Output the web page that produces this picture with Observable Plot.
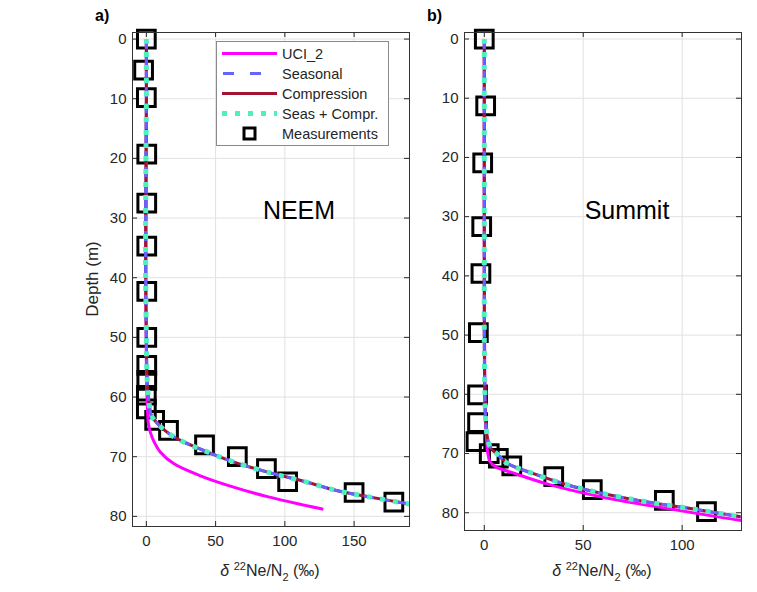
<!DOCTYPE html>
<html><head><meta charset="utf-8">
<script src="https://cdn.jsdelivr.net/npm/d3@7"></script>
<script src="https://cdn.jsdelivr.net/npm/@observablehq/plot@0.6"></script>
<style>
body{margin:0;background:#fff;font-family:"Liberation Sans",Arial,sans-serif;color:#262626}
#wrap{position:relative;width:757px;height:592px;overflow:hidden;background:#fff}
.abs{position:absolute;white-space:nowrap}
.panel{position:absolute;top:0}
.xlab{font-size:16px;text-align:center;width:200px}
.xlab sup,.xlab sub{font-size:11px}
.site{font-size:25px;color:#000}
.tag{font-size:16px;font-weight:bold;color:#000}
</style></head><body><div id="wrap"></div>
<script>
// ---------- NEEM (panel a) ----------
const neemMeasX     = [0, -2, 0, 0.3, 0.3, 0.3, 0.3, 0.3, 0.3, 0.3, 0, 0, 6, 16, 42, 65.7, 86.7, 102, 150, 178.7];
const neemMeasDepth = [0, 5.2, 9.8, 19.3, 27.5, 34.7, 42.3, 50, 54.7, 57.2, 59.7, 62, 63.9, 65.6, 68, 70, 72, 74.2, 76, 77.6];

const neemUciX     = [0, 0, -0.3, 0, 0.5, 1, 1.5, 3, 6, 10, 20, 39, 63, 87.4, 111.6, 127.8];
const neemUciDepth = [0, 20, 40, 55, 60, 63, 64.5, 66, 67.7, 69.2, 71.2, 73.2, 75.1, 76.7, 78, 78.8];

const neemCompX     = [0, 0, -0.3, -0.5, -0.5, 0, 0.3, 0.8, 1.5, 2.5, 3.6, 10, 17.4, 25.8, 44, 63.3, 91, 111.6, 138, 160, 189, 196];
const neemCompDepth = [0, 10, 20, 30, 40, 50, 55, 58, 60, 62, 63.1, 64.9, 66.3, 67.4, 69.2, 70.9, 72.8, 74, 75.7, 76.7, 77.9, 78.2];

const neemSeasX     = [0, 0, -0.3, -0.5, -0.5, 0, 0.3, 0.8, 1.5, 2.5, 3.6, 10, 17.4, 25.8, 44, 63.3, 91, 111.6, 138, 160, 189, 196];
const neemSeasDepth = [0, 10, 20, 30, 40, 50, 55, 58, 60, 62, 63.1, 64.9, 66.3, 67.4, 69.2, 70.9, 72.8, 74, 75.7, 76.7, 77.9, 78.2];

const neemBothX     = [0, 0, -0.3, -0.5, -0.5, 0, 0.3, 0.8, 1.5, 2.5, 3.6, 10, 17.4, 25.8, 44, 63.3, 91, 111.6, 138, 160, 189, 196];
const neemBothDepth = [0, 10, 20, 30, 40, 50, 55, 58, 60, 62, 63.1, 64.9, 66.3, 67.4, 69.2, 70.9, 72.8, 74, 75.7, 76.7, 77.9, 78.2];

// ---------- Summit (panel b) ----------
const sumMeasX     = [0, 0.7, -0.8, -1.3, -1.7, -3, -3.4, -3.4, -4.2, 2.5, 7.1, 13.9, 35.1, 54.6, 91, 112.3];
const sumMeasDepth = [0, 11.3, 20.9, 31.7, 39.6, 49.6, 60.1, 64.8, 68, 70, 70.8, 72.1, 73.9, 76.1, 77.9, 79.8];

const sumUciX     = [0, 0, 0.3, 0.8, 1.2, 1.8, 2.9, 6, 13, 33.4, 58.9, 92.8, 130, 136];
const sumUciDepth = [0, 40, 60, 65, 68, 70, 71.4, 72.3, 73.1, 75.3, 77.3, 79.3, 81.3, 81.5];

const sumCompX     = [0, 0, 0, 0, 0.3, 0.8, 2, 3.5, 6.3, 11.4, 24.9, 45.3, 75.8, 106.3, 130, 136];
const sumCompDepth = [0, 20, 40, 50, 60, 65, 68, 69.2, 70, 71.6, 73.4, 75.6, 77.8, 79.4, 80.7, 80.9];

const sumSeasX     = [0, 0, 0, 0, 0.3, 0.8, 2, 3.5, 6.3, 11.4, 24.9, 45.3, 75.8, 106.3, 130, 136];
const sumSeasDepth = [0, 20, 40, 50, 60, 65, 68, 69.2, 70, 71.6, 73.4, 75.6, 77.8, 79.4, 80.7, 80.9];

const sumBothX     = [0, 0, 0, 0, 0.3, 0.8, 2, 3.5, 6.3, 11.4, 24.9, 45.3, 75.8, 106.3, 130, 136];
const sumBothDepth = [0, 20, 40, 50, 60, 65, 68, 69.2, 70, 71.6, 73.4, 75.6, 77.8, 79.4, 80.7, 80.9];

// ---------- ticks & labels ----------
const neemXTicks = [0, 50, 100, 150];
const sumXTicks  = [0, 50, 100];
const depthTicks = [0, 10, 20, 30, 40, 50, 60, 70, 80];
const seriesNames = ["UCI_2", "Seasonal", "Compression", "Seas + Compr.", "Measurements"];
const siteNames = ["NEEM", "Summit"];
const panelTags = ["a)", "b)"];
const yLabel = "Depth (m)";

const zip = (xs, ds) => xs.map((x, i) => ({x, d: ds[i]}));
const FONT = '"Liberation Sans", Arial, sans-serif';
const C = {uci: "#ff00ff", seas: "#6464ff", comp: "#a2142f", both: "#4ff0c0"};

function panel({w, h, ml, mr, mt, mb, xDomain, yDomain, xTicks, meas, uci, comp, seas, both}) {
  const pw = w - ml - mr, ph = h - mt - mb;
  const lineOpts = {x: "x", y: "d", curve: "catmull-rom", clip: true, strokeLinecap: "butt", strokeLinejoin: "round"};
  return Plot.plot({
    width: w, height: h, marginLeft: ml, marginRight: mr, marginTop: mt, marginBottom: mb,
    style: {background: "transparent", fontFamily: FONT, fontSize: "15px", color: "#262626", overflow: "visible"},
    x: {domain: xDomain, label: null},
    y: {domain: yDomain, reverse: true, label: null},
    marks: [
      Plot.gridX(xTicks, {stroke: "#e2e2e2", strokeOpacity: 1}),
      Plot.gridY(depthTicks, {stroke: "#e2e2e2", strokeOpacity: 1}),
      Plot.axisX(xTicks, {tickSize: 0, tickPadding: 9, label: null, fontSize: 15}),
      Plot.axisY(depthTicks, {tickSize: 0, tickPadding: 6, label: null, fontSize: 15}),
      Plot.ruleX(xTicks, {insetTop: ph - 5, stroke: "#262626"}),
      Plot.ruleX(xTicks, {insetBottom: ph - 5, stroke: "#262626"}),
      Plot.ruleY(depthTicks, {insetRight: pw - 5, stroke: "#262626"}),
      Plot.ruleY(depthTicks, {insetLeft: pw - 5, stroke: "#262626"}),
      Plot.dot(meas, {x: "x", y: "d", symbol: "square", r: 10, stroke: "black", strokeWidth: 3, fill: "none"}),
      Plot.line(uci, {...lineOpts, stroke: C.uci, strokeWidth: 3}),
      Plot.line(comp, {...lineOpts, stroke: C.comp, strokeWidth: 3}),
      Plot.line(seas, {...lineOpts, stroke: C.seas, strokeWidth: 3, strokeDasharray: "10,6"}),
      Plot.line(both, {...lineOpts, stroke: C.both, strokeWidth: 5, strokeDasharray: "5,8"}),
      Plot.frame({stroke: "#333"})
    ]
  });
}

const wrap = document.getElementById("wrap");

const pa = panel({w: 412, h: 570, ml: 132, mr: 3, mt: 32, mb: 44,
  xDomain: [-10, 190], yDomain: [-1.1, 81.7], xTicks: neemXTicks,
  meas: zip(neemMeasX, neemMeasDepth), uci: zip(neemUciX, neemUciDepth),
  comp: zip(neemCompX, neemCompDepth), seas: zip(neemSeasX, neemSeasDepth), both: zip(neemBothX, neemBothDepth)});
pa.classList.add("panel"); pa.style.left = "0px";
wrap.appendChild(pa);

const pb = panel({w: 345, h: 570, ml: 52, mr: 16, mt: 32, mb: 40,
  xDomain: [-10, 130], yDomain: [-1.1, 83], xTicks: sumXTicks,
  meas: zip(sumMeasX, sumMeasDepth), uci: zip(sumUciX, sumUciDepth),
  comp: zip(sumCompX, sumCompDepth), seas: zip(sumSeasX, sumSeasDepth), both: zip(sumBothX, sumBothDepth)});
pb.classList.add("panel"); pb.style.left = "412px";
wrap.appendChild(pb);

function addDiv(html, cls, css) {
  const d = document.createElement("div");
  d.className = "abs " + (cls || "");
  d.innerHTML = html;
  Object.assign(d.style, css);
  wrap.appendChild(d);
  return d;
}
const xlabHTML = '<i>δ</i> <sup>22</sup>Ne/N<sub>2</sub> (‰)';
addDiv(xlabHTML, "xlab", {left: (270 - 100) + "px", top: "560px"});
addDiv(xlabHTML, "xlab", {left: (602 - 100) + "px", top: "560px"});
addDiv(yLabel, "", {left: "93px", top: "279px", fontSize: "17px", transform: "translate(-50%,-50%) rotate(-90deg)"});
addDiv(siteNames[0], "site", {left: "299px", top: "210px", transform: "translate(-50%,-50%)"});
addDiv(siteNames[1], "site", {left: "627px", top: "210px", transform: "translate(-50%,-50%)"});
addDiv(panelTags[0], "tag", {left: "95px", top: "7px"});
addDiv(panelTags[1], "tag", {left: "427px", top: "7px"});

// legend
const ns = "http://www.w3.org/2000/svg";
const lg = document.createElementNS(ns, "svg");
lg.setAttribute("width", 174); lg.setAttribute("height", 106);
Object.assign(lg.style, {position: "absolute", left: "215.5px", top: "40.5px"});
let s = '<rect x="0.5" y="0.5" width="172" height="104" fill="white" stroke="#8a8a8a"/>';
const rows = [12.5, 32.5, 52.5, 72.5, 92.5];
const styles = [
  `stroke="${C.uci}" stroke-width="3"`,
  `stroke="${C.seas}" stroke-width="3" stroke-dasharray="11,16" stroke-dashoffset="-1"`,
  `stroke="${C.comp}" stroke-width="3"`,
  `stroke="${C.both}" stroke-width="5" stroke-dasharray="5,8"`
];
styles.forEach((st, i) => { s += `<line x1="6" x2="61" y1="${rows[i]}" y2="${rows[i]}" ${st}/>`; });
s += `<rect x="28" y="${rows[4] - 5.5}" width="11" height="11" fill="none" stroke="black" stroke-width="3"/>`;
seriesNames.forEach((n, i) => { s += `<text x="66" y="${rows[i] + 5}" font-family='${FONT}' font-size="14.5" fill="#262626">${n}</text>`; });
lg.innerHTML = s;
wrap.appendChild(lg);
</script></body></html>
